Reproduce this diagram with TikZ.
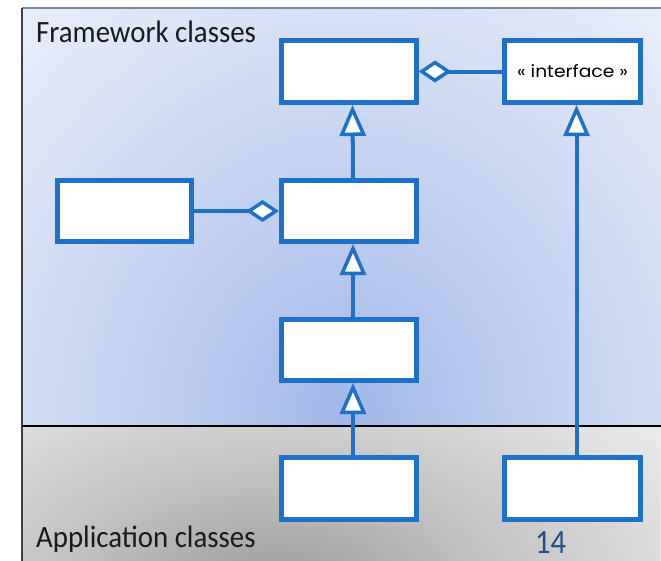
\documentclass[tikz,border=0pt]{standalone}
\usepackage{fontspec}
\setmainfont{Carlito}
\newfontfamily\stereofont{Poppins}
\usetikzlibrary{arrows.meta,shadows}

\definecolor{umlblue}{RGB}{31,112,199}
\definecolor{pagenum}{RGB}{31,78,140}
\definecolor{fwlight}{RGB}{237,241,251}
\definecolor{fwdark}{RGB}{160,183,232}
\colorlet{fwmid}{fwdark!60!fwlight}
\definecolor{applight}{RGB}{236,236,236}
\definecolor{appdark}{RGB}{155,155,155}
\colorlet{appmid}{appdark!55!applight}
\definecolor{frametop}{RGB}{118,136,160}
\definecolor{labeltext}{RGB}{26,26,26}

% soft glows behind the two layers; 25bp meets the path's bounding box
\pgfdeclareradialshading{fwglow}{\pgfpoint{0bp}{0bp}}%
  {color(0bp)=(fwdark); color(12bp)=(fwmid); color(33bp)=(fwlight); color(50bp)=(fwlight)}
\pgfdeclareradialshading{appglow}{\pgfpoint{0bp}{0bp}}%
  {color(0bp)=(appdark); color(13bp)=(appmid); color(32bp)=(applight); color(50bp)=(applight)}

\tikzset{
  cls/.style={draw=umlblue, line width=5pt, fill=white, inner sep=0pt,
    minimum width=135pt, minimum height=61pt,
    drop shadow={shadow xshift=2pt, shadow yshift=-2pt, opacity=0.3, fill=black}},
  link/.style={draw=umlblue, line width=4pt},
  gen/.style={link, -{Triangle[open, fill=white, length=31pt, width=26pt, line width=3.5pt]}},
  agg/.style={link, -{Diamond[open, fill=white, length=33pt, width=22pt, line width=3.5pt]}},
  layerlabel/.style={anchor=base west, inner sep=0pt, text=labeltext,
    font=\fontsize{31}{36}\selectfont},
}

\begin{document}
\begin{tikzpicture}[x=1pt, y=-1pt]
\useasboundingbox (0,0) rectangle (661,560);
\clip (0,0) rectangle (661,560);

% framework layer
\begin{scope}
  \clip (22,8) rectangle (670,426);
  \fill[fwlight] (22,8) rectangle (670,426);
  \shade[shading=fwglow] (-40,-20) rectangle (730,860);
\end{scope}

% application layer
\begin{scope}
  \clip (22,426) rectangle (670,570);
  \fill[applight] (22,426) rectangle (670,570);
  \shade[shading=appglow] (-110,380) rectangle (660,800);
\end{scope}

% frame edges and layer divider
\draw[frametop, line width=2pt] (22,8) -- (670,8);
\draw[black!75, line width=1.3pt] (22,8) -- (22,570);
\draw[black, line width=1.3pt] (22,426) -- (670,426);

% classes
\node[cls, minimum height=62pt] (A) at (348.5,71.5) {};
\node[cls, minimum width=136pt, minimum height=62pt] (B) at (572.5,71.5)
  {\stereofont\fontsize{17}{19}\selectfont\scalebox{1.1}[1]{« interface »}};
\node[cls, minimum width=134pt] (C) at (124.5,211) {};
\node[cls] (D) at (349,211) {};
\node[cls] (E) at (349,350) {};
\node[cls, minimum height=62pt] (F) at (349,488.5) {};
\node[cls, minimum width=136pt, minimum height=62pt] (G) at (572.5,488.5) {};

% generalisation
\draw[gen] ([xshift=4pt]D.north) -- ([xshift=4pt]A.south);
\draw[gen] ([xshift=4pt]E.north) -- ([xshift=4pt]D.south);
\draw[gen] ([xshift=4pt]F.north) -- ([xshift=4pt]E.south);
\draw[gen] ([xshift=4pt]G.north) -- ([xshift=4pt]B.south);

% aggregation
\draw[agg] (B.west) -- (A.east);
\draw[agg] (C.east) -- (D.west);

% layer names and page number
\node[layerlabel] (fwlabel) at (36,42) {\scalebox{0.93}[1]{Framework classes}};
\node[layerlabel] (applabel) at (36,547) {\scalebox{0.93}[1]{Application classes}};
\node[anchor=base west, inner sep=0pt, text=pagenum,
  font=\fontsize{34}{40}\selectfont] (pnum) at (535,553) {\scalebox{0.9}[1]{14}};
\end{tikzpicture}
\end{document}
